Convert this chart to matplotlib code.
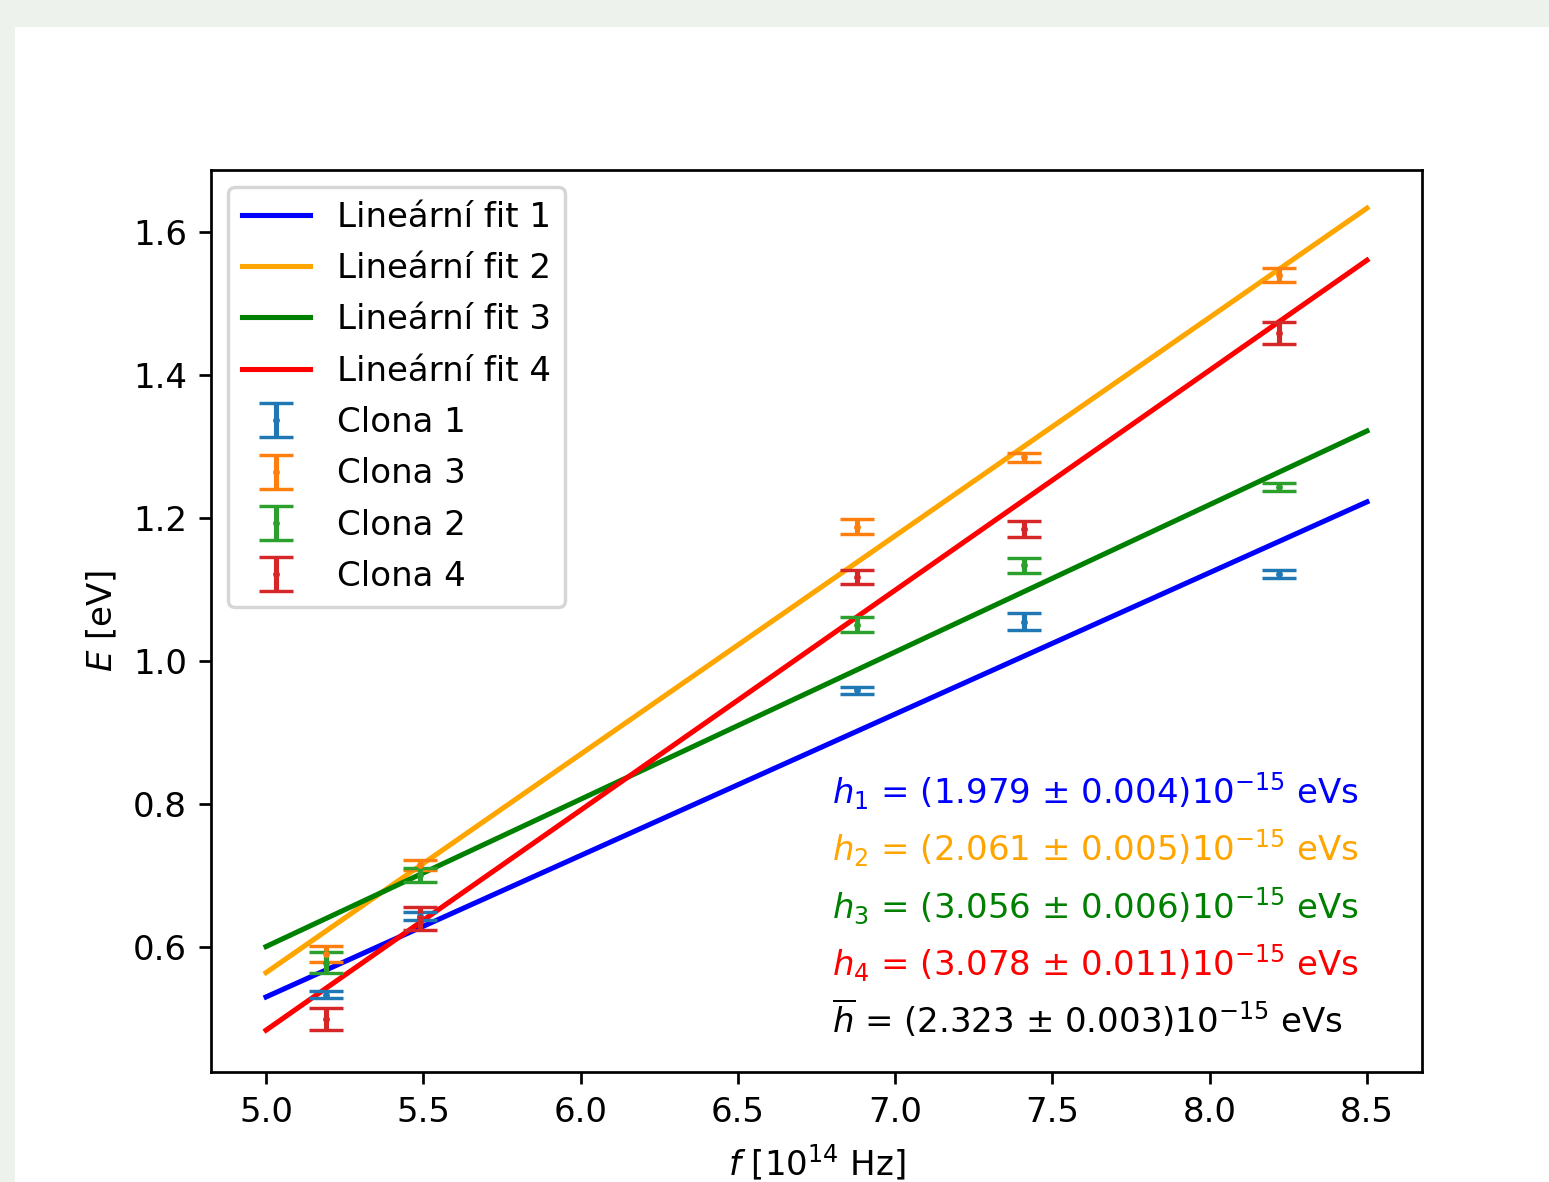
import numpy as np
import matplotlib
matplotlib.use("Agg")
import matplotlib.pyplot as plt
from matplotlib.patches import Rectangle

# ---- data ----
f_fit = [5.0, 8.5]
fit_labels = ["Lineární fit 1", "Lineární fit 2", "Lineární fit 3", "Lineární fit 4"]
fit_colors = ["blue", "orange", "green", "red"]
slopes = [0.1979, 0.3056, 0.2061, 0.3078]
intercepts = [-0.4595, -0.964, -0.430, -1.0555]

f = [5.19, 5.49, 6.88, 7.41, 8.22]
clona_labels = ["Clona 1", "Clona 3", "Clona 2", "Clona 4"]
clona_colors = ["C0", "C1", "C2", "C3"]
E1 = [0.533, 0.643, 0.959, 1.055, 1.122]
E1_err = [0.005, 0.006, 0.005, 0.012, 0.006]
E3 = [0.590, 0.715, 1.188, 1.285, 1.540]
E3_err = [0.011, 0.007, 0.0105, 0.006, 0.010]
E2 = [0.578, 0.701, 1.051, 1.134, 1.243]
E2_err = [0.015, 0.010, 0.0105, 0.0105, 0.0055]
E4 = [0.499, 0.640, 1.1175, 1.185, 1.459]
E4_err = [0.015, 0.016, 0.010, 0.011, 0.016]

texts = [r"$h_1$ = (1.979 ± 0.004)10$^{-15}$ eVs",
         r"$h_2$ = (2.061 ± 0.005)10$^{-15}$ eVs",
         r"$h_3$ = (3.056 ± 0.006)10$^{-15}$ eVs",
         r"$h_4$ = (3.078 ± 0.011)10$^{-15}$ eVs",
         r"$\overline{h}$ = (2.323 ± 0.003)10$^{-15}$ eVs"]
text_colors = ["blue", "orange", "green", "red", "black"]
text_y = [0.80, 0.72, 0.64, 0.56, 0.48]
text_x = 6.8
y_limits = (0.425, 1.687)

# ---- figure ----
W, H, DPI = 1549, 1182, 245
fig = plt.figure(figsize=(W / DPI, H / DPI), dpi=DPI, facecolor="#eef2ec")
fig.patches.append(Rectangle((15 / W, 0), 1 - 15 / W, 1 - 27 / H,
                             transform=fig.transFigure, facecolor="white",
                             edgecolor="none", zorder=-10))

ax_l, ax_r, ax_t, ax_b = 211, 1422, 170, 1072
ax = fig.add_axes([ax_l / W, (H - ax_b) / H, (ax_r - ax_l) / W, (ax_b - ax_t) / H])
ax.set_zorder(5)

fx = np.array(f_fit)
for s, b, c, lab in zip(slopes, intercepts, fit_colors, fit_labels):
    ax.plot(fx, s * fx + b, color=c, label=lab)

for E, err, c, lab in zip([E1, E3, E2, E4], [E1_err, E3_err, E2_err, E4_err],
                          clona_colors, clona_labels):
    ax.errorbar(f, E, yerr=err, fmt=".", markersize=2, capsize=5, color=c, label=lab)

for t, c, y in zip(texts, text_colors, text_y):
    ax.text(text_x, y, t, color=c)

ax.set_ylim(*y_limits)
ax.set_xlabel(r"$f$ [10$^{14}$ Hz]")
ax.set_ylabel(r"$E$ [eV]")
ax.legend(loc="upper left", labelspacing=0.54)

fig.savefig("out.png", dpi=DPI, facecolor=fig.get_facecolor())
